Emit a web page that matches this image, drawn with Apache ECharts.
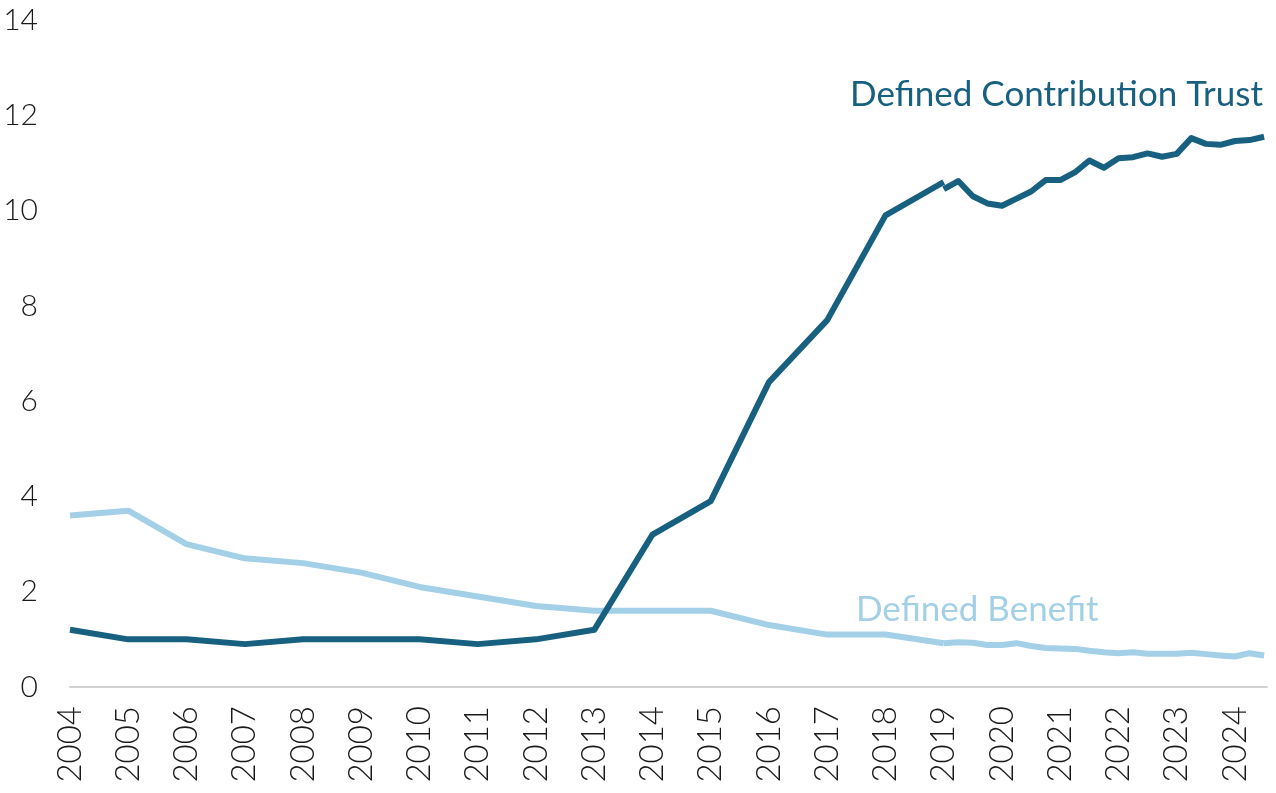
<!DOCTYPE html>
<html>
<head>
<meta charset="utf-8">
<script src="https://cdn.jsdelivr.net/npm/echarts@6/dist/echarts.min.js"></script>
<style>
  html, body { margin: 0; padding: 0; background: #fff; }
  #chart { width: 1276px; height: 793px; }
</style>
</head>
<body>
<div id="chart"></div>
<script>
// annual points 2004-2019
var years = [2004, 2005, 2006, 2007, 2008, 2009, 2010, 2011, 2012, 2013, 2014, 2015, 2016, 2017, 2018, 2019]
var dcAnnual = [1.2, 1.0, 1.0, 0.9, 1.0, 1.0, 1.0, 0.9, 1.0, 1.2, 3.2, 3.9, 6.4, 7.7, 9.9, 10.6]
var dbAnnual = [3.6, 3.7, 3.0, 2.7, 2.6, 2.4, 2.1, 1.9, 1.7, 1.6, 1.6, 1.6, 1.3, 1.1, 1.1, 0.92]

// quarterly points 2019 Q1 - 2024 Q3
var quarters = [2019, 2019.25, 2019.5, 2019.75, 2020, 2020.25, 2020.5, 2020.75,
  2021, 2021.25, 2021.5, 2021.75, 2022, 2022.25, 2022.5, 2022.75,
  2023, 2023.25, 2023.5, 2023.75, 2024, 2024.25, 2024.5]
var dcQuarterly = [10.45, 10.62, 10.3, 10.15, 10.1, 10.25, 10.4, 10.64,
  10.64, 10.8, 11.05, 10.9, 11.1, 11.12, 11.2, 11.13,
  11.19, 11.52, 11.4, 11.38, 11.46, 11.48, 11.55]
var dbQuarterly = [0.92, 0.94, 0.93, 0.88, 0.88, 0.92, 0.86, 0.82,
  0.81, 0.8, 0.76, 0.73, 0.71, 0.73, 0.7, 0.7,
  0.7, 0.72, 0.69, 0.66, 0.64, 0.71, 0.66]

var yTicks = [0, 2, 4, 6, 8, 10, 12, 14]

var DC_COLOR = '#17607f'
var DB_COLOR = '#a3d0e7'
var FONT = 'Lato'

function pairs(xs, ys) {
  return xs.map(function (x, i) { return [x, ys[i]] })
}

function lineSeries(name, color, data) {
  return {
    name: name,
    type: 'line',
    data: data,
    symbol: 'none',
    lineStyle: { color: color, width: 6, cap: 'butt', join: 'round' },
    itemStyle: { color: color },
    animation: false
  }
}

var chart = echarts.init(document.getElementById('chart'))
chart.setOption({
  backgroundColor: '#fff',
  grid: { left: 70, right: 9, top: 20, bottom: 106, containLabel: false, outerBoundsMode: 'none' },
  xAxis: {
    type: 'value',
    min: 2004,
    max: 2024.55,
    interval: 1,
    axisLine: { show: true, lineStyle: { color: '#d3d3d3', width: 2 } },
    axisTick: { show: false },
    splitLine: { show: false },
    axisLabel: {
      rotate: 90,
      margin: 19,
      fontFamily: FONT,
      fontWeight: 300,
      fontSize: 33,
      color: '#1a1a1a',
      showMaxLabel: false,
      formatter: function (v) { return Number.isInteger(v) ? String(v) : '' }
    }
  },
  yAxis: {
    type: 'value',
    min: yTicks[0],
    max: yTicks[yTicks.length - 1],
    interval: 2,
    axisLine: { show: false },
    axisTick: { show: false },
    splitLine: { show: false },
    axisLabel: {
      margin: 32,
      fontFamily: FONT,
      fontWeight: 300,
      fontSize: 30,
      color: '#1a1a1a'
    }
  },
  graphic: [
    {
      type: 'text',
      right: 13,
      top: 77,
      style: { text: 'Defined Contribution Trust', fill: DC_COLOR, font: '400 35px Lato' }
    },
    {
      type: 'text',
      left: 856,
      top: 592,
      style: { text: 'Defined Benefit', fill: DB_COLOR, font: '400 35px Lato' }
    }
  ],
  series: [
    lineSeries('Defined Benefit', DB_COLOR, pairs(years, dbAnnual)),
    lineSeries('Defined Benefit (quarterly)', DB_COLOR, pairs(quarters, dbQuarterly)),
    lineSeries('Defined Contribution Trust', DC_COLOR, pairs(years, dcAnnual)),
    lineSeries('Defined Contribution Trust (quarterly)', DC_COLOR, pairs(quarters, dcQuarterly))
  ]
})
</script>
</body>
</html>
